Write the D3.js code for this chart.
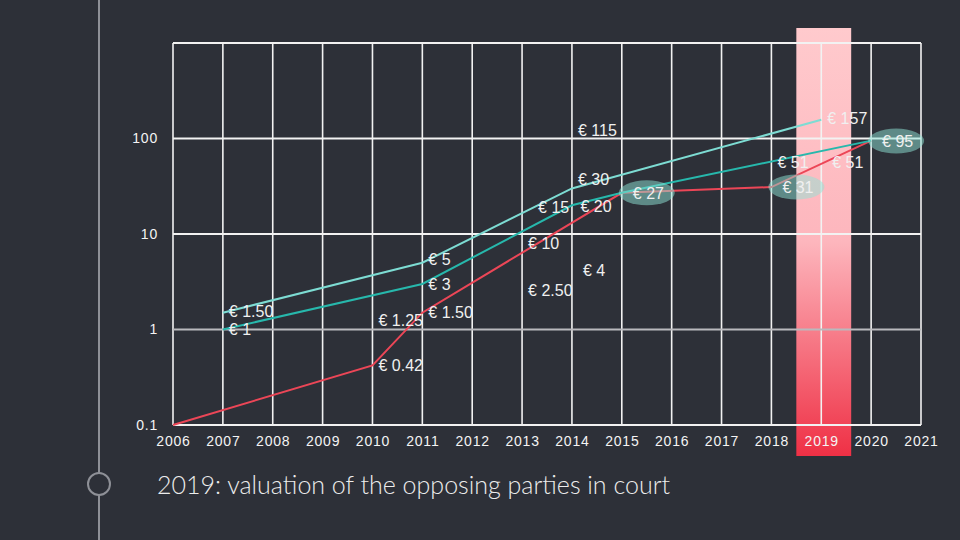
<!DOCTYPE html>
<html>
<head>
<meta charset="utf-8">
<script src="https://cdn.jsdelivr.net/npm/d3@7"></script>
<style>
  html, body { margin: 0; padding: 0; background: #2d3038; }
  svg { display: block; }
  .tick text { fill: #f4f4f4; font-family: "Liberation Sans", Arial, sans-serif; font-size: 14px; letter-spacing: 0.8px; }
  .note { fill: #f0f0f0; font-family: "Liberation Sans", Arial, sans-serif; font-size: 16px; }
</style>
</head>
<body>
<div id="chart"></div>
<script>

// series values (year, value)
var upperSeries = [[2007, 1.5], [2011, 5], [2014, 30], [2019, 157]];
var middleSeries = [[2007, 1], [2011, 3], [2014, 20], [2015, 27], [2020, 95]];
var lowerSeries = [[2006, 0.1], [2010, 0.42], [2011, 1.5], [2015, 27], [2018, 31], [2020, 95]];

// tick labels
var years = d3.range(2006, 2022);
var yTicks = [0.1, 1, 10, 100];

// annotations: year, value where they sit, text
var notes = [
  [2007, 1.55, "€ 1.50"], [2007, 1, "€ 1"],
  [2011, 5.5, "€ 5"], [2011, 3, "€ 3"], [2011, 1.5, "€ 1.50"],
  [2010, 1.26, "€ 1.25"], [2010, 0.42, "€ 0.42"],
  [2013.2, 19, "€ 15"], [2013, 8, "€ 10"], [2013, 2.55, "€ 2.50"],
  [2014.1, 4.2, "€ 4"], [2014.05, 19.5, "€ 20"], [2014, 37, "€ 30"], [2014, 123, "€ 115"],
  [2018, 57, "€ 51"], [2019.1, 57, "€ 51"], [2019, 164, "€ 157"]
];
// highlighted notes (with ellipse behind)
var marked = [[2015.1, 27, "€ 27"], [2018.1, 31, "€ 31"], [2020.1, 94, "€ 95"]];

var highlightYear = 2019;
var title = "2019: valuation of the opposing parties in court";

var width = 960, height = 540;
var margin = {top: 43, right: 39, bottom: 115, left: 173};

var svg = d3.select("#chart").append("svg")
  .attr("width", width)
  .attr("height", height);

var x = d3.scaleLinear().domain([2006, 2021]).range([margin.left, width - margin.right]);
var y = d3.scaleLog().domain([0.1, 1000]).range([height - margin.bottom, margin.top]);

// gradient for the highlight band
var grad = svg.append("defs").append("linearGradient")
  .attr("id", "band").attr("x1", 0).attr("y1", 0).attr("x2", 0).attr("y2", 1);
grad.append("stop").attr("offset", "0%").attr("stop-color", "#ffcacd");
grad.append("stop").attr("offset", "50%").attr("stop-color", "#fdb6bd");
grad.append("stop").attr("offset", "100%").attr("stop-color", "#ef3045");

// side timeline
svg.append("line")
  .attr("x1", 99).attr("x2", 99).attr("y1", 0).attr("y2", height)
  .attr("stroke", "#8e9097").attr("stroke-width", 2);
svg.append("circle")
  .attr("cx", 99).attr("cy", 484).attr("r", 11)
  .attr("fill", "#2d3038").attr("stroke", "#8e9097").attr("stroke-width", 2);

// band
svg.append("rect")
  .attr("x", x(highlightYear - 0.5))
  .attr("width", x(highlightYear + 0.6) - x(highlightYear - 0.5))
  .attr("y", 28)
  .attr("height", 428)
  .attr("fill", "url(#band)");

// grid
svg.append("g")
  .selectAll("line")
  .data(years)
  .enter().append("line")
  .attr("x1", function(d) { return x(d); })
  .attr("x2", function(d) { return x(d); })
  .attr("y1", y(1000)).attr("y2", y(0.1))
  .attr("stroke", "#f2f2f2").attr("stroke-width", 1.6);

svg.append("g")
  .selectAll("line")
  .data([0.1, 1, 10, 100, 1000])
  .enter().append("line")
  .attr("x1", x(2006)).attr("x2", x(2021))
  .attr("y1", function(d) { return y(d); })
  .attr("y2", function(d) { return y(d); })
  .attr("stroke", function(d) { return d == 1 ? "#b9b9bd" : "#f2f2f2"; })
  .attr("stroke-width", 2);

// axes
svg.append("g")
  .attr("transform", "translate(0," + y(0.1) + ")")
  .call(d3.axisBottom(x).tickValues(years).tickFormat(d3.format("d")).tickSize(0).tickPadding(11))
  .call(function(g) { g.select(".domain").remove(); });

svg.append("g")
  .attr("transform", "translate(" + x(2006) + ",0)")
  .call(d3.axisLeft(y).tickValues(yTicks).tickFormat(function(d) { return d; }).tickSize(0).tickPadding(15))
  .call(function(g) { g.select(".domain").remove(); });

// lines
var line = d3.line()
  .x(function(d) { return x(d[0]); })
  .y(function(d) { return y(d[1]); });

svg.append("path").datum(lowerSeries)
  .attr("d", line).attr("fill", "none")
  .attr("stroke", "#ec4657").attr("stroke-width", 2);
svg.append("path").datum(middleSeries)
  .attr("d", line).attr("fill", "none")
  .attr("stroke", "#27b8ac").attr("stroke-width", 2);
svg.append("path").datum(upperSeries)
  .attr("d", line).attr("fill", "none")
  .attr("stroke", "#7ddcd3").attr("stroke-width", 2);

// ellipses
svg.append("g")
  .selectAll("ellipse")
  .data(marked)
  .enter().append("ellipse")
  .attr("cx", function(d) { return x(d[0]) + 20; })
  .attr("cy", function(d) { return y(d[1]); })
  .attr("rx", 28).attr("ry", 12.5)
  .attr("fill", "#8fe3d6").attr("opacity", 0.5);

// notes
svg.append("g")
  .selectAll("text")
  .data(notes.concat(marked))
  .enter().append("text")
  .attr("class", "note")
  .attr("x", function(d) { return x(d[0]) + 6; })
  .attr("y", function(d) { return y(d[1]); })
  .attr("dy", "0.36em")
  .text(function(d) { return d[2]; });

// title
svg.append("text")
  .attr("x", 157).attr("y", 494)
  .attr("fill", "#ececec")
  .style("font-family", "Lato, 'Open Sans', sans-serif")
  .style("font-weight", 300)
  .style("font-size", "25px")
  .text(title);

</script>
</body>
</html>
